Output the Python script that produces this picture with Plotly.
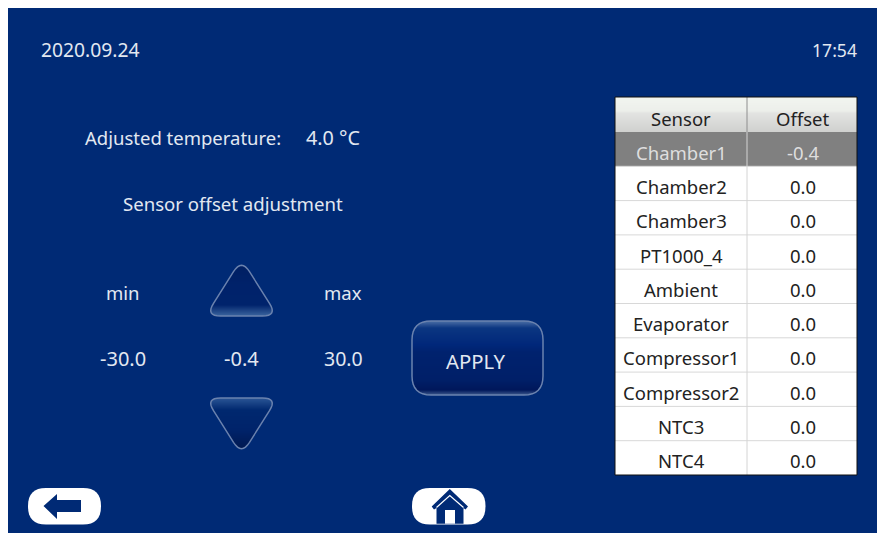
import plotly.graph_objects as go

# ---- content -------------------------------------------------------------
date_text = "2020.09.24"
time_text = "17:54"
adjusted_label = "Adjusted temperature:"
adjusted_value = "4.0 °C"
section_title = "Sensor offset adjustment"
range_labels = ["min", "max"]
range_values = ["-30.0", "30.0"]
current_offset = "-0.4"
apply_label = "APPLY"
table_headers = ["Sensor", "Offset"]
sensors = ["Chamber1", "Chamber2", "Chamber3", "PT1000_4", "Ambient",
           "Evaporator", "Compressor1", "Compressor2", "NTC3", "NTC4"]
offsets = ["-0.4", "0.0", "0.0", "0.0", "0.0", "0.0", "0.0", "0.0", "0.0", "0.0"]
selected_sensor = "Chamber1"

# ---- style ---------------------------------------------------------------
BLUE = "#002a75"
TXT = "#e2e8f1"
RIM = "#6a82ae"
FONT = "Noto Sans"
shapes, notes = [], []


def rect(x0, y0, x1, y1, fill, line=None, w=1):
    shapes.append(dict(type="rect", x0=x0, y0=y0, x1=x1, y1=y1, fillcolor=fill,
                       line=dict(color=line, width=w) if line else dict(width=0)))


def poly(points):
    return "M" + " L".join(f"{x:.2f},{y:.2f}" for x, y in points) + " Z"


def path(points, fill, line=None, w=1):
    shapes.append(dict(type="path", path=poly(points), fillcolor=fill,
                       line=dict(color=line, width=w) if line else dict(width=0)))


def rounded(points, radii, steps=8):
    """Polygon with every corner replaced by a sampled quadratic curve."""
    out = []
    n = len(points)
    for i, (px, py) in enumerate(points):
        ax, ay = points[i - 1]
        bx, by = points[(i + 1) % n]
        r = radii[i] if isinstance(radii, (list, tuple)) else radii
        la = ((ax - px) ** 2 + (ay - py) ** 2) ** 0.5
        lb = ((bx - px) ** 2 + (by - py) ** 2) ** 0.5
        s = (px + (ax - px) * r / la, py + (ay - py) * r / la)
        e = (px + (bx - px) * r / lb, py + (by - py) * r / lb)
        for k in range(steps + 1):
            t = k / steps
            out.append(((1 - t) ** 2 * s[0] + 2 * t * (1 - t) * px + t * t * e[0],
                        (1 - t) ** 2 * s[1] + 2 * t * (1 - t) * py + t * t * e[1]))
    return out


def clip(points, y, keep_below):
    out = []
    n = len(points)
    for i in range(n):
        a, b = points[i], points[(i + 1) % n]
        ina = a[1] >= y if keep_below else a[1] <= y
        inb = b[1] >= y if keep_below else b[1] <= y
        if ina:
            out.append(a)
        if ina != inb:
            t = (y - a[1]) / (b[1] - a[1])
            out.append((a[0] + t * (b[0] - a[0]), y))
    return out


def mix(stops, y):
    for (y0, c0), (y1, c1) in zip(stops, stops[1:]):
        if y <= y1:
            t = (y - y0) / (y1 - y0)
            v = [int(c0[i:i + 2], 16) * (1 - t) + int(c1[i:i + 2], 16) * t for i in (1, 3, 5)]
            return "#%02x%02x%02x" % tuple(int(round(x)) for x in v)
    return stops[-1][1]


def gradient_button(points, stops, rim=RIM):
    ys = [p[1] for p in points]
    y = int(min(ys))
    bottom = int(max(ys)) + 1
    while y < bottom:
        band = clip(clip(points, y, True), y + 1.4, False)
        if len(band) > 2:
            path(band, mix(stops, y + 0.5))
        y += 1
    path(points, "rgba(0,0,0,0)", rim, 1.5)


def text(x, y, s, size=18.5, color=TXT, anchor="center"):
    notes.append(dict(x=x, y=y, text=s, showarrow=False, xanchor=anchor, yanchor="middle",
                      font=dict(family=FONT, size=size, color=color)))


rect(8, 8, 877, 533, BLUE)

# texts
text(38.5, 49.5, date_text, size=19.3, anchor="left")
text(858.5, 49.5, time_text, size=17.6, anchor="right")
text(83, 137.5, adjusted_label, anchor="left")
text(304, 137.5, adjusted_value, size=19.8, anchor="left")
text(232.5, 203.5, section_title, size=18.6)
text(123, 292.5, range_labels[0])
text(343, 292.5, range_labels[1])
text(123, 358.5, range_values[0], size=20)
text(241, 358.5, current_offset, size=20)
text(343, 358.5, range_values[1], size=19.5)

# triangle buttons
up = rounded([(241.5, 259), (277.5, 316), (205.5, 316)], 15)
down = rounded([(205.5, 398), (277.5, 398), (241.5, 455)], 15)
gradient_button(up, [(265, "#001f62"), (285, "#00226a"), (305, "#00236c"), (316, "#3b659f")])
gradient_button(down, [(398, "#2b5696"), (410, "#00286f"), (430, "#00236a"), (449, "#001850")])

# APPLY button
apply_btn = rounded([(412, 321), (543, 321), (543, 395), (412, 395)], 19)
gradient_button(apply_btn, [(321, "#4c6fa6"), (328, "#0b3681"), (345, "#00277a"), (352, "#00226e"),
                            (380, "#001f68"), (390, "#00175a"), (395, "#3d5a8e")])
text(476, 360.5, apply_label, size=20.3)

# table
T_X0, T_XM, T_X1 = 615, 747, 857
T_Y0, HEAD, ROW = 97, 35, 34.3
T_Y1 = T_Y0 + HEAD + ROW * len(sensors)
rect(T_X0, T_Y0, T_X1, T_Y1, "#ffffff")
head_stops = [(97, "#f2f5f0"), (111, "#ecefea"), (113, "#e3e4e2"), (132, "#cfd0ce")]
for y in range(97, 132):
    rect(T_X0, y, T_X1, y + 1, mix(head_stops, y + 0.5))
for j, h in enumerate(table_headers):
    text((T_X0 + T_XM) / 2 if j == 0 else (T_XM + T_X1) / 2, 118, h, color="#222222")
for i, (s, o) in enumerate(zip(sensors, offsets)):
    y0 = T_Y0 + HEAD + i * ROW
    sel = s == selected_sensor
    if sel:
        rect(T_X0, y0, T_X1, y0 + ROW, "#808080")
    else:
        shapes.append(dict(type="line", x0=T_X0, x1=T_X1, y0=y0, y1=y0,
                           line=dict(color="#d8d8d8", width=1)))
    color = "#dedede" if sel else "#222222"
    text((T_X0 + T_XM) / 2, y0 + ROW / 2 + 3, s, color=color)
    text((T_XM + T_X1) / 2 + 0.5, y0 + ROW / 2 + 3, o, color=color)
shapes.append(dict(type="line", x0=T_XM, x1=T_XM, y0=T_Y0, y1=T_Y0 + HEAD,
                   line=dict(color="#8e8e8e", width=1)))
shapes.append(dict(type="line", x0=T_XM, x1=T_XM, y0=T_Y0 + HEAD, y1=T_Y1,
                   line=dict(color="#d4d4d4", width=1)))
rect(T_X0, T_Y0, T_X1, T_Y1, "rgba(0,0,0,0)", "#111111", 1)

# nav buttons
path(rounded([(28, 488), (101, 488), (101, 524.5), (28, 524.5)], 18), "#ffffff")
path([(43.5, 506), (57, 494), (57, 500), (81, 500), (81, 512), (57, 512), (57, 519)], BLUE)
path(rounded([(412, 488), (485.5, 488), (485.5, 524.5), (412, 524.5)], 18), "#ffffff")
path([(449.8, 489), (468, 506.5), (465.5, 509.5), (463.5, 508), (463.5, 523.7), (436.5, 523.7),
      (436.5, 508), (434, 509.5), (431.7, 506.5)], BLUE)
shapes.append(dict(type="path", path="M436.5,507.5 L449.8,495.5 L463.5,507.5",
                   line=dict(color="#ffffff", width=1.2)))
rect(445, 510, 455, 523.7, "#ffffff")

fig = go.Figure()
fig.add_trace(go.Scatter(x=[8, 877], y=[8, 533], mode="markers", marker=dict(opacity=0),
                         hoverinfo="skip", showlegend=False))
fig.update_layout(width=877, height=533, margin=dict(l=0, r=0, t=0, b=0),
                  paper_bgcolor="#ffffff", plot_bgcolor="#ffffff",
                  shapes=shapes, annotations=notes, showlegend=False,
                  xaxis=dict(range=[0, 877], visible=False, fixedrange=True),
                  yaxis=dict(range=[533, 0], visible=False, fixedrange=True))
fig.write_html("out.html", config=dict(displayModeBar=False),
               post_script="document.body.style.margin='0';document.body.style.overflow='hidden';")
